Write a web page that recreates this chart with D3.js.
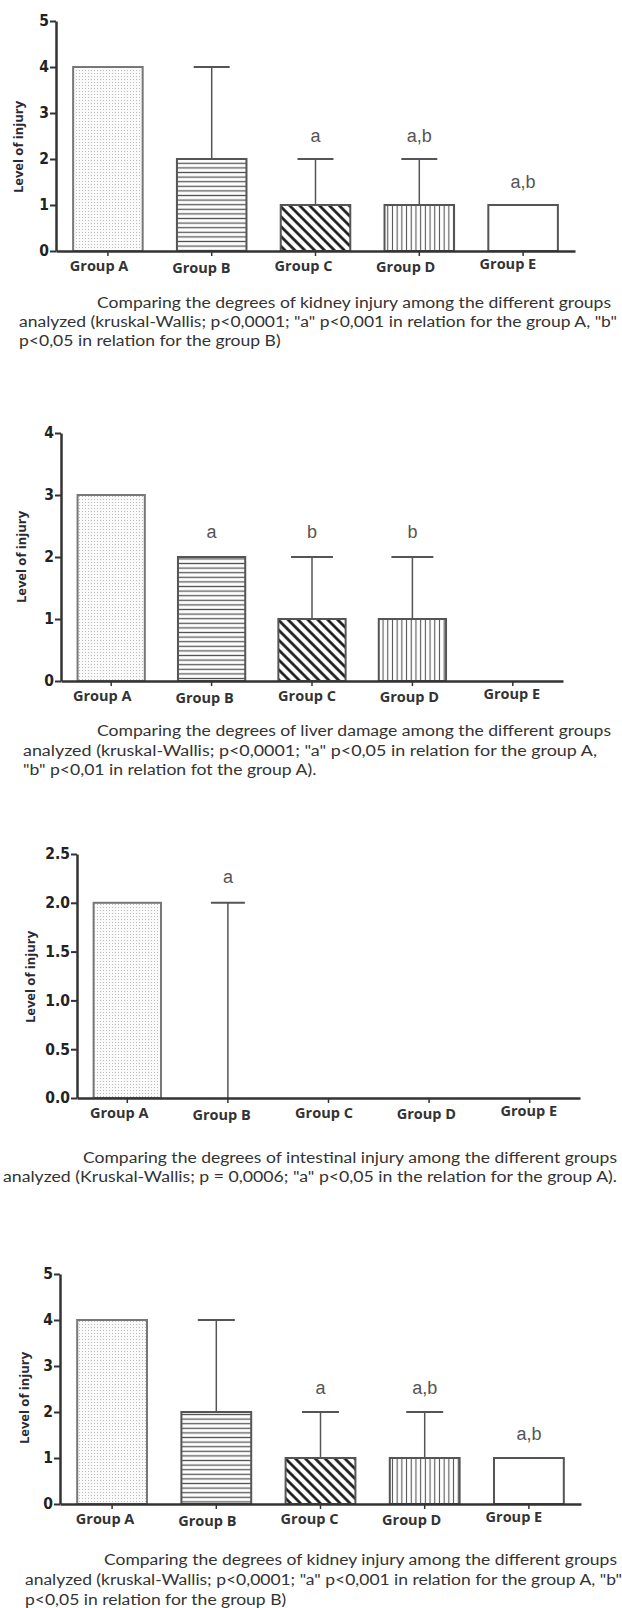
<!DOCTYPE html>
<html><head><meta charset="utf-8">
<script src="https://cdn.jsdelivr.net/npm/d3@7"></script>
<style>
html,body{margin:0;padding:0;background:#fff;}
svg{display:block;}
</style></head>
<body>
<svg id="c" width="622" height="1608"></svg>
<script>
// ---------- data ----------
const groups = ["Group A","Group B","Group C","Group D","Group E"];
const fillPatterns = ["dots","hlines","diag","vlines","none"];

const kidneyMeans   = [4, 2, 1, 1, 1];
const kidneyErr     = [0, 2, 1, 1, 0];
const kidneyLetters = ["", "", "a", "a,b", "a,b"];
const kidneyTicks   = [0, 1, 2, 3, 4, 5];

const liverMeans   = [3, 2, 1, 1, 0];
const liverErr     = [0, 0, 1, 1, 0];
const liverLetters = ["", "a", "b", "b", ""];
const liverTicks   = [0, 1, 2, 3, 4];

const intestMeans   = [2, 0, 0, 0, 0];
const intestErr     = [0, 2, 0, 0, 0];
const intestLetters = ["", "a", "", "", ""];
const intestTicks   = [0, 0.5, 1.0, 1.5, 2.0, 2.5];

const yTitle = "Level of injury";
const kidneyCaption = [
  "Comparing the degrees of kidney injury among the different groups",
  "analyzed (kruskal-Wallis; p<0,0001; \"a\" p<0,001 in relation for the group A, \"b\"",
  "p<0,05 in relation for the group B)"
];
const liverCaption = [
  "Comparing the degrees of liver damage among the different groups",
  "analyzed (kruskal-Wallis; p<0,0001; \"a\" p<0,05 in relation for the group A,",
  "\"b\" p<0,01 in relation fot the group A)."
];
const intestCaption = [
  "Comparing the degrees of intestinal injury among the different groups",
  "analyzed (Kruskal-Wallis; p = 0,0006; \"a\" p<0,05 in the relation for the group A)."
];

// ---------- layout ----------
const charts = [
  {means:kidneyMeans, err:kidneyErr, letters:kidneyLetters, ticks:kidneyTicks, fmt:d3.format("d"),
   left:56, right:575, yTop:21, yBot:251, labL:48, labR:559, titleX:18, titleY:147, letterGap:17, capW:36,
   caption:kidneyCaption, capX:[97,19,19], capEnd:[611,617,null], capY:[302,321,340]},
  {means:liverMeans, err:liverErr, letters:liverLetters, ticks:liverTicks, fmt:d3.format("d"),
   left:61, right:563, yTop:433, yBot:681, labL:51, labR:563, titleX:21, titleY:557, letterGap:19, capW:42,
   caption:liverCaption, capX:[97,23,23], capEnd:[611,597,null], capY:[730,750,769]},
  {means:intestMeans, err:intestErr, letters:intestLetters, ticks:intestTicks, fmt:d3.format(".1f"),
   left:77, right:580, yTop:854, yBot:1098, labL:68, labR:580, titleX:30, titleY:977, letterGap:20, capW:34,
   caption:intestCaption, capX:[83,3], capEnd:[617,617], capY:[1157,1176]},
  {means:kidneyMeans, err:kidneyErr, letters:kidneyLetters, ticks:kidneyTicks, fmt:d3.format("d"),
   left:60, right:581, yTop:1274, yBot:1504, labL:54, labR:565, titleX:24, titleY:1398, letterGap:18, capW:37,
   caption:kidneyCaption, capX:[104,25,25], capEnd:[617,622,null], capY:[1559,1579,1599]}
];
const labelDy = [0, 2, 0, 1, -2];

const svg = d3.select("#c");
svg.append("rect").attr("width",622).attr("height",1608).attr("fill","#fff");

// ---------- patterns ----------
const defs = svg.append("defs");
const pDots = defs.append("pattern").attr("id","dots").attr("patternUnits","userSpaceOnUse").attr("width",3).attr("height",3);
pDots.append("rect").attr("width",3).attr("height",3).attr("fill","#fafafa");
pDots.append("rect").attr("x",1).attr("y",1).attr("width",1).attr("height",1).attr("fill","#bcbcbc");

const pH = defs.append("pattern").attr("id","hlines").attr("patternUnits","userSpaceOnUse").attr("width",10).attr("height",4.6);
pH.append("rect").attr("width",10).attr("height",4.6).attr("fill","#fff");
pH.append("line").attr("x1",0).attr("x2",10).attr("y1",2.3).attr("y2",2.3).attr("stroke","#555").attr("stroke-width",1.3);

const pV = defs.append("pattern").attr("id","vlines").attr("patternUnits","userSpaceOnUse").attr("width",4.7).attr("height",10);
pV.append("rect").attr("width",4.7).attr("height",10).attr("fill","#fff");
pV.append("line").attr("x1",2.35).attr("x2",2.35).attr("y1",0).attr("y2",10).attr("stroke","#555").attr("stroke-width",1.1);

const pD = defs.append("pattern").attr("id","diag").attr("patternUnits","userSpaceOnUse").attr("width",10).attr("height",7)
  .attr("patternTransform","rotate(45)");
pD.append("rect").attr("width",10).attr("height",7).attr("fill","#fff");
pD.append("line").attr("x1",0).attr("x2",10).attr("y1",3.5).attr("y2",3.5).attr("stroke","#111").attr("stroke-width",2.6);

const fillOf = p => p === "none" ? "#fff" : `url(#${p})`;

const tickFont = "'Liberation Sans Narrow','Arial Narrow','DejaVu Sans Condensed',sans-serif";
const letterFont = "'Liberation Sans',Arial,sans-serif";
const labelFont = "'Open Sans','Noto Sans',sans-serif";
const capFont = "Lato,'Open Sans',sans-serif";

charts.forEach(c => {
  const g = svg.append("g");
  const x = d3.scaleBand().domain(groups).range([c.left, c.right]).paddingInner(0.33).paddingOuter(0.165);
  const xLab = d3.scaleBand().domain(groups).range([c.labL, c.labR]);
  const yMax = c.ticks[c.ticks.length-1];
  const y = d3.scaleLinear().domain([0, yMax]).range([c.yBot, c.yTop]);
  const data = groups.map((gname,i) => ({g:gname, m:c.means[i], e:c.err[i], l:c.letters[i], p:fillPatterns[i], i}));

  // bars
  g.selectAll("rect.bar").data(data.filter(d => d.m > 0)).join("rect")
    .attr("class","bar")
    .attr("x", d => x(d.g)).attr("width", x.bandwidth())
    .attr("y", d => y(d.m)).attr("height", d => y(0) - y(d.m))
    .attr("fill", d => fillOf(d.p))
    .attr("stroke", d => d.p === "dots" ? "#777" : "#555")
    .attr("stroke-width", 2);

  // error bars (upper only)
  const eb = data.filter(d => d.e > 0);
  g.selectAll("line.ev").data(eb).join("line")
    .attr("x1", d => x(d.g) + x.bandwidth()/2).attr("x2", d => x(d.g) + x.bandwidth()/2)
    .attr("y1", d => y(d.m)).attr("y2", d => y(d.m + d.e))
    .attr("stroke","#555").attr("stroke-width",1.5);
  g.selectAll("line.ec").data(eb).join("line")
    .attr("x1", d => x(d.g) + x.bandwidth()/2 - c.capW/2).attr("x2", d => x(d.g) + x.bandwidth()/2 + c.capW/2)
    .attr("y1", d => y(d.m + d.e)).attr("y2", d => y(d.m + d.e))
    .attr("stroke","#555").attr("stroke-width",2);

  // significance letters
  g.selectAll("text.let").data(data.filter(d => d.l)).join("text")
    .attr("x", d => x(d.g) + x.bandwidth()/2)
    .attr("y", d => y(d.m + d.e) - c.letterGap)
    .attr("text-anchor","middle")
    .attr("font-family", letterFont).attr("font-size", 18).attr("fill","#555")
    .text(d => d.l);

  // y axis
  const ya = g.append("g").attr("transform", `translate(${c.left},0)`)
    .call(d3.axisLeft(y).tickValues(c.ticks).tickFormat(c.fmt).tickSize(6).tickSizeOuter(0).tickPadding(1));
  ya.select(".domain").attr("stroke","#333").attr("stroke-width",2.5);
  ya.selectAll(".tick line").attr("stroke","#333").attr("stroke-width",2);
  ya.selectAll(".tick text").attr("font-family", tickFont).attr("font-weight","bold")
    .attr("font-size",15.5).attr("fill","#222");

  // x axis
  const xa = g.append("g").attr("transform", `translate(0,${c.yBot})`)
    .call(d3.axisBottom(x).tickSize(5).tickSizeOuter(0).tickFormat(""));
  xa.select(".domain").attr("stroke","#333").attr("stroke-width",2.5);
  xa.selectAll(".tick line").attr("stroke","#333").attr("stroke-width",1.5);

  // group labels
  g.selectAll("text.glab").data(data).join("text")
    .attr("x", d => xLab(d.g) + xLab.bandwidth()/2)
    .attr("y", d => c.yBot + 20 + labelDy[d.i])
    .attr("text-anchor","middle")
    .attr("font-family", labelFont).attr("font-weight", 700).attr("font-size", 14.5).attr("fill","#333")
    .text(d => d.g);

  // y title
  g.append("text")
    .attr("transform", `translate(${c.titleX},${c.titleY}) rotate(-90)`)
    .attr("text-anchor","middle").attr("dominant-baseline","central")
    .attr("font-family", labelFont).attr("font-weight", 700).attr("font-size", 13).attr("fill","#2a2a35")
    .text(yTitle);

  // caption
  let ratio = null;
  const capTexts = c.caption.map((line, k) => g.append("text")
      .attr("x", c.capX[k]).attr("y", c.capY[k])
      .attr("dominant-baseline","central")
      .attr("font-family", capFont).attr("font-size", 15.5).attr("fill","#333")
      .text(line));
  capTexts.forEach((t, k) => {
    if (c.capEnd[k] != null) {
      const nat = t.node().getComputedTextLength();
      const target = c.capEnd[k] - c.capX[k];
      if (ratio === null) ratio = target / nat;
      t.attr("textLength", target).attr("lengthAdjust","spacingAndGlyphs");
    }
  });
  capTexts.forEach((t, k) => {
    if (c.capEnd[k] == null) {
      const nat = t.node().getComputedTextLength();
      t.attr("textLength", nat * (ratio || 1)).attr("lengthAdjust","spacingAndGlyphs");
    }
  });
});
</script>
</body></html>
